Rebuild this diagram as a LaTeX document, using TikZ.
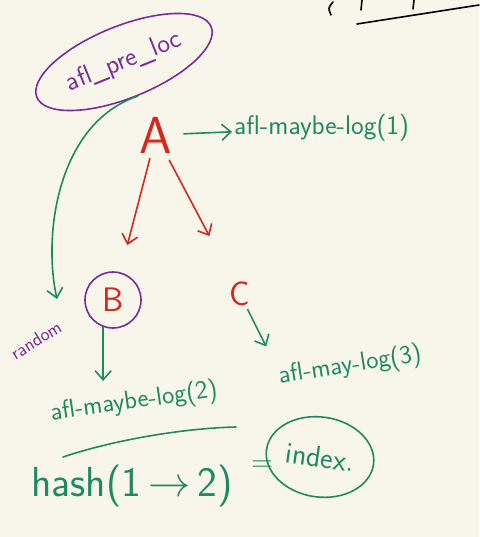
\documentclass[tikz,border=0pt]{standalone}
\usepackage{tikz}
\usetikzlibrary{calc}
\usetikzlibrary{arrows.meta}
\usetikzlibrary{shapes.geometric}

\definecolor{paper}{HTML}{F8F5EA}
\definecolor{pengreen}{HTML}{1F8A60}
\definecolor{penred}{HTML}{D4281E}
\definecolor{penpurple}{HTML}{7A2C98}

\tikzset{
  ink/.style={line width=1.6pt, line cap=round, line join=round},
  tip/.style={-{Straight Barb[length=9pt,width=16pt]}},
  word/.style={font=\sffamily\fontsize{26}{26}\selectfont, inner sep=2pt},
  letter/.style={text=penred, font=\sffamily\fontsize{34}{34}\selectfont},
}

\begin{document}
\begin{tikzpicture}[x=1pt, y=-1pt]
\fill[paper] (0,0) rectangle (479,537);
\useasboundingbox (0,0) rectangle (479,537);

% leftover strokes, top right
\draw[black, ink] (357,24) -- (479,5);
\draw[black, ink] (333,2) .. controls (328,8) .. (331,15);
\draw[black, ink] (362,0) -- (361,10);
\draw[black, ink] (414,0) -- (413,9);

% nodes
\node[word, text=penpurple, draw=penpurple, ink, ellipse, rotate=22,
      font=\sffamily\fontsize{27}{27}\selectfont,
      minimum width=188pt, minimum height=72pt] (pre) at (124,62) {afl\_pre\_loc};
\node[letter, font=\sffamily\fontsize{52}{52}\selectfont] (A) at (156,135) {A};
\node[word, text=pengreen, anchor=west, font=\sffamily\fontsize{27}{27}\selectfont] (log1) at (232,128) {afl-maybe-log(1)};
\node[letter, draw=penpurple, ink, circle, minimum size=56pt] (B) at (113,300) {B};
\node[letter] (C) at (240,294) {C};
\node[word, text=pengreen, rotate=9] (log3) at (350,366) {afl-may-log(3)};
\node[word, text=pengreen, rotate=8] (log2) at (134,402) {afl-maybe-log(2)};
\node[word, text=penpurple, font=\sffamily\fontsize{19}{19}\selectfont, rotate=32] (rand) at (36,340) {random};
\node[text=pengreen, font=\sffamily\fontsize{42}{42}\selectfont] (hash) at (132,486) {hash(1\,\scalebox{1.7}{$\rightarrow$}\,2)};
\node[text=pengreen, font=\sffamily\fontsize{30}{30}\selectfont] (eq) at (262,466) {=};
\node[text=pengreen, draw=pengreen, ink, ellipse, rotate=-8,
      font=\sffamily\fontsize{30}{30}\selectfont, inner sep=0pt,
      minimum width=108pt, minimum height=80pt] (idx) at (320,457) {index.};
\coordinate (randtop) at (57,299);

% connectors
\draw[pengreen, ink, tip] (A) -- (log1) [shorten <=8pt];
\draw[penred, ink, tip] (A) -- (B) [shorten >=28pt, shorten <=2pt];
\draw[penred, ink, tip] (A) -- (C) [shorten >=48pt, shorten <=4pt];
\draw[pengreen, ink, tip] (C) -- (log3.north west) [shorten >=18pt];
\draw[pengreen, ink, tip] (B.250) -- (B.250 |- log2.north) [shorten >=6pt];
\draw[pengreen, ink, tip] (pre.south) .. controls (60,122) and (42,230) .. (randtop);

% underline of log(2)
\draw[pengreen, ink] (63,457) .. controls (120,438) and (190,428) .. (236,427);

\end{tikzpicture}
\end{document}
